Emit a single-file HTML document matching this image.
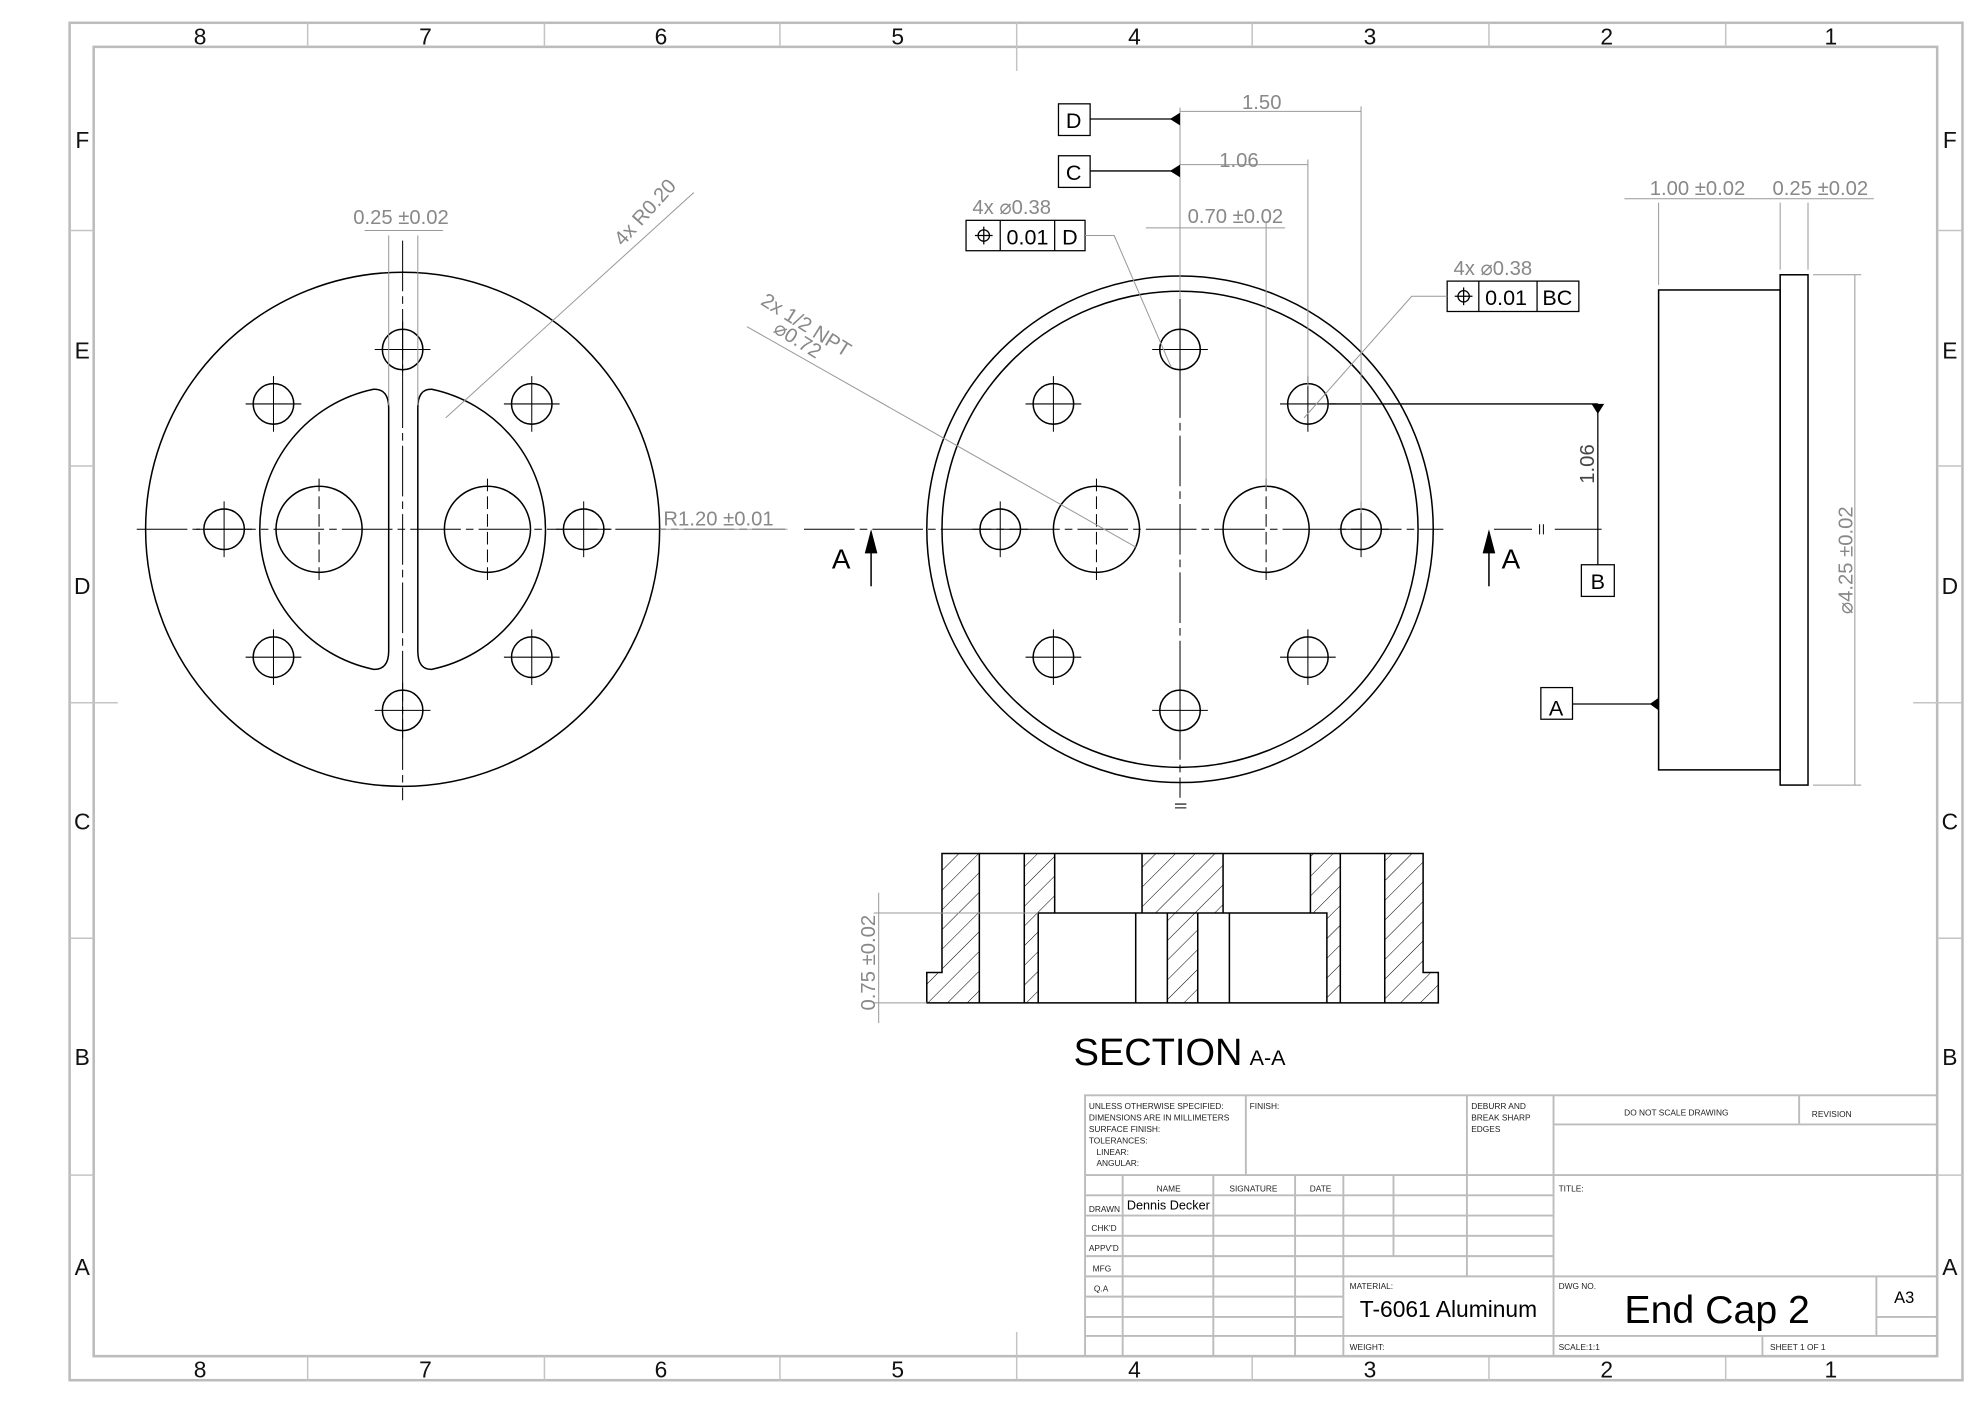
<!DOCTYPE html>
<html><head><meta charset="utf-8"><style>
html,body{margin:0;padding:0;background:#fff;}
svg{display:block;}
text{font-family:"Liberation Sans",sans-serif;}
</style></head><body>
<svg width="1984" height="1403" viewBox="0 0 1567 1108" preserveAspectRatio="none" xmlns="http://www.w3.org/2000/svg">
<defs>
<pattern id="h" patternUnits="userSpaceOnUse" width="11" height="11" patternTransform="rotate(45)">
<line x1="0" y1="0" x2="0" y2="11" stroke="#000" stroke-width="0.8"/>
</pattern>
</defs>
<rect width="1567" height="1108" fill="#fff"/>
<!-- border -->
<g fill="none" stroke="#bcbcbc" stroke-width="2">
<rect x="55" y="18" width="1495" height="1072"/>
<rect x="74" y="37" width="1456" height="1034"/>
</g>
<g stroke="#c4c4c4" stroke-width="1.2">
<line x1="243" y1="18" x2="243" y2="37"/><line x1="430" y1="18" x2="430" y2="37"/><line x1="616" y1="18" x2="616" y2="37"/><line x1="803" y1="18" x2="803" y2="56"/><line x1="989" y1="18" x2="989" y2="37"/><line x1="1176" y1="18" x2="1176" y2="37"/><line x1="1363" y1="18" x2="1363" y2="37"/>
<line x1="243" y1="1071" x2="243" y2="1090"/><line x1="430" y1="1071" x2="430" y2="1090"/><line x1="616" y1="1071" x2="616" y2="1090"/><line x1="803" y1="1052" x2="803" y2="1090"/><line x1="989" y1="1071" x2="989" y2="1090"/><line x1="1176" y1="1071" x2="1176" y2="1090"/><line x1="1363" y1="1071" x2="1363" y2="1090"/>
<line x1="55" y1="182" x2="74" y2="182"/><line x1="55" y1="368" x2="74" y2="368"/><line x1="55" y1="555" x2="93" y2="555"/><line x1="55" y1="741" x2="74" y2="741"/><line x1="55" y1="928" x2="74" y2="928"/>
<line x1="1530" y1="182" x2="1550" y2="182"/><line x1="1530" y1="368" x2="1550" y2="368"/><line x1="1511" y1="555" x2="1550" y2="555"/><line x1="1530" y1="741" x2="1550" y2="741"/><line x1="1530" y1="928" x2="1550" y2="928"/>
</g>
<g font-size="18" fill="#111" text-anchor="middle">
<text x="158" y="35">8</text><text x="336" y="35">7</text><text x="522" y="35">6</text><text x="709" y="35">5</text><text x="896" y="35">4</text><text x="1082" y="35">3</text><text x="1269" y="35">2</text><text x="1446" y="35">1</text>
<text x="158" y="1088">8</text><text x="336" y="1088">7</text><text x="522" y="1088">6</text><text x="709" y="1088">5</text><text x="896" y="1088">4</text><text x="1082" y="1088">3</text><text x="1269" y="1088">2</text><text x="1446" y="1088">1</text>
<text x="65" y="117">F</text><text x="65" y="283">E</text><text x="65" y="469">D</text><text x="65" y="655">C</text><text x="65" y="841">B</text><text x="65" y="1007">A</text>
<text x="1540" y="117">F</text><text x="1540" y="283">E</text><text x="1540" y="469">D</text><text x="1540" y="655">C</text><text x="1540" y="841">B</text><text x="1540" y="1007">A</text>
</g>

<!-- LEFT VIEW -->
<g fill="none" stroke="#000" stroke-width="1.2">
<circle cx="318" cy="418" r="203"/>
<path d="M307,322 Q307,307 295,307.4 A113,113 0 0 0 295,528.6 Q307,529 307,514 Z"/>
<path d="M330,322 Q330,307 341,307.4 A113,113 0 0 1 341,528.6 Q330,529 330,514 Z"/>
<circle cx="252" cy="418" r="34"/><circle cx="385" cy="418" r="34"/>
<circle cx="318" cy="276" r="16"/><circle cx="318" cy="561" r="16"/><circle cx="177" cy="418" r="16"/><circle cx="461" cy="418" r="16"/>
<circle cx="216" cy="319" r="16"/><circle cx="420" cy="319" r="16"/><circle cx="216" cy="519" r="16"/><circle cx="420" cy="519" r="16"/>
</g>
<g stroke="#000" stroke-width="0.8">
<line x1="108" y1="418" x2="620" y2="418" stroke-dasharray="40,4,6,4"/>
<line x1="318" y1="190" x2="318" y2="632" stroke-dasharray="40,4,6,4"/>
<line x1="252" y1="378" x2="252" y2="460" stroke-dasharray="10,4"/><line x1="385" y1="378" x2="385" y2="460" stroke-dasharray="10,4"/>
<path d="M296,276h44M318,254v44M296,561h44M318,539v44M155,418h44M177,396v44M439,418h44M461,396v44M194,319h44M216,297v44M398,319h44M420,297v44M194,519h44M216,497v44M398,519h44M420,497v44"/>
</g>
<g stroke="#999" stroke-width="0.8" fill="none">
<line x1="307" y1="186" x2="307" y2="320"/><line x1="330" y1="186" x2="330" y2="320"/>
<line x1="288" y1="182" x2="350" y2="182"/>
<line x1="548" y1="152" x2="352" y2="330"/>
<line x1="521" y1="418" x2="622" y2="418"/>
</g>
<g fill="#888" font-size="16">
<text x="279" y="177">0.25 ±0.02</text>
<text x="0" y="0" transform="translate(492,195) rotate(-48)">4x R0.20</text>
<text x="524" y="415">R1.20 ±0.01</text>
</g>

<!-- CENTER VIEW -->
<g fill="none" stroke="#000" stroke-width="1.2">
<circle cx="932" cy="418" r="200"/><circle cx="932" cy="418" r="188"/>
<circle cx="866" cy="418" r="34"/><circle cx="1000" cy="418" r="34"/>
<circle cx="932" cy="276" r="16"/><circle cx="932" cy="561" r="16"/><circle cx="790" cy="418" r="16"/><circle cx="1075" cy="418" r="16"/>
<circle cx="832" cy="319" r="16"/><circle cx="1033" cy="319" r="16"/><circle cx="832" cy="519" r="16"/><circle cx="1033" cy="519" r="16"/>
</g>
<g stroke="#000" stroke-width="0.8">
<line x1="635" y1="418" x2="1140" y2="418" stroke-dasharray="40,4,6,4"/>
<line x1="1180" y1="418" x2="1210" y2="418"/><line x1="1228" y1="418" x2="1265" y2="418"/>
<line x1="932" y1="236" x2="932" y2="630" stroke-dasharray="40,4,6,4"/>
<line x1="866" y1="378" x2="866" y2="460" stroke-dasharray="10,4"/><line x1="1000" y1="378" x2="1000" y2="460" stroke-dasharray="10,4"/>
<path d="M910,276h44M932,254v44M910,561h44M932,539v44M768,418h44M790,396v44M1053,418h44M1075,396v44M810,319h44M832,297v44M1011,319h44M1033,297v44M810,519h44M832,497v44M1011,519h44M1033,497v44"/>
<path d="M928,635h9M928,638h9M1216,414v8M1219,414v8"/>
</g>
<line x1="932" y1="85" x2="932" y2="236" stroke="#999" stroke-width="0.8"/>
<!-- datum D C -->
<g fill="none" stroke="#000" stroke-width="1">
<rect x="836" y="82" width="25" height="25"/><rect x="836" y="123" width="25" height="25"/>
<line x1="861" y1="94" x2="926" y2="94"/><line x1="861" y1="135" x2="926" y2="135"/>
<rect x="763" y="174" width="94" height="24"/><line x1="790" y1="174" x2="790" y2="198"/><line x1="833" y1="174" x2="833" y2="198"/>
<rect x="1143" y="222" width="104" height="24"/><line x1="1168" y1="222" x2="1168" y2="246"/><line x1="1214" y1="222" x2="1214" y2="246"/>
<line x1="1050" y1="319" x2="1262" y2="319"/>
<line x1="1262" y1="319" x2="1262" y2="446"/>
<rect x="1249" y="446" width="26" height="25"/>
<circle cx="777" cy="186" r="4.5"/><line x1="777" y1="179" x2="777" y2="193"/><line x1="770" y1="186" x2="784" y2="186"/>
<circle cx="1156" cy="234" r="4.5"/><line x1="1156" y1="227" x2="1156" y2="241"/><line x1="1149" y1="234" x2="1163" y2="234"/>
</g>
<path d="M932,89L924,94L932,99Z M932,130L924,135L932,140Z M1257,319L1267,319L1262,327Z M1303,556L1310,551L1310,561Z" fill="#000"/>
<g stroke="#999" stroke-width="0.8" fill="none">
<line x1="932" y1="88" x2="1075" y2="88"/><line x1="1075" y1="84" x2="1075" y2="405"/>
<line x1="932" y1="130" x2="1033" y2="130"/><line x1="1033" y1="126" x2="1033" y2="305"/>
<line x1="905" y1="180" x2="1015" y2="180"/><line x1="1000" y1="176" x2="1000" y2="385"/>
<polyline points="857,186 880,186 925,290"/>
<polyline points="1143,234 1115,234 1030,330"/>
<line x1="590" y1="258" x2="897" y2="432"/>
</g>
<g fill="#000" font-size="22"><text x="657" y="449">A</text><text x="1186" y="449">A</text></g>
<g stroke="#000" stroke-width="1.2"><line x1="688" y1="420" x2="688" y2="463"/><line x1="1176" y1="420" x2="1176" y2="463"/></g>
<path d="M683,437L688,418L693,437Z M1171,437L1176,418L1181,437Z" fill="#000"/>
<g font-size="17" fill="#000" text-anchor="middle">
<text x="848" y="101">D</text><text x="848" y="142">C</text>
<text x="845" y="193">D</text><text x="1230" y="241">BC</text>
<text x="1262" y="465">B</text><text x="1229" y="565">A</text>
</g>
<g font-size="17" fill="#000"><text x="795" y="193">0.01</text><text x="1173" y="241">0.01</text></g>
<g fill="#888" font-size="16">
<text x="981" y="86">1.50</text><text x="963" y="132">1.06</text>
<text x="938" y="176">0.70 ±0.02</text>
<text x="768" y="169">4x ⌀0.38</text><text x="1148" y="217">4x ⌀0.38</text>
<text x="0" y="0" transform="translate(600,240) rotate(32)">2x 1/2 NPT</text>
<text x="0" y="0" transform="translate(610,262) rotate(32)">⌀0.72</text>
</g>
<text x="0" y="0" transform="translate(1259,382) rotate(-90)" font-size="16" fill="#444">1.06</text>

<!-- RIGHT VIEW -->
<g fill="none" stroke="#000" stroke-width="1.2">
<rect x="1310" y="229" width="96" height="379"/>
<rect x="1406" y="217" width="22" height="403"/>
<rect x="1217" y="543" width="25" height="25" stroke-width="1"/>
<line x1="1242" y1="556" x2="1304" y2="556" stroke-width="1"/>
</g>
<g stroke="#999" stroke-width="0.8">
<line x1="1283" y1="157" x2="1480" y2="157"/>
<line x1="1310" y1="160" x2="1310" y2="225"/><line x1="1406" y1="160" x2="1406" y2="213"/><line x1="1428" y1="160" x2="1428" y2="213"/>
<line x1="1432" y1="217" x2="1470" y2="217"/><line x1="1432" y1="620" x2="1470" y2="620"/>
<line x1="1465" y1="217" x2="1465" y2="620"/>
</g>
<g fill="#888" font-size="16"><text x="1303" y="154">1.00 ±0.02</text><text x="1400" y="154">0.25 ±0.02</text>
<text x="0" y="0" transform="translate(1463,485) rotate(-90)">⌀4.25 ±0.02</text></g>

<!-- SECTION -->
<g fill="url(#h)" stroke="none">
<path d="M744,674H773.5V792H732V768H744Z"/>
<path d="M809,674H833V721H820V792H809Z"/>
<path d="M902,674H966V721H946V792H922V721H902Z"/>
<path d="M1035,674H1058.6V792H1048V721H1035Z"/>
<path d="M1093.7,674H1124V768H1136V792H1093.7Z"/>
</g>
<g fill="none" stroke="#000" stroke-width="1.2">
<path d="M744,674H1124V768H1136V792H732V768H744Z"/>
<path d="M773.5,674V792M809,674V792M1058.6,674V792M1093.7,674V792"/>
<path d="M833,674V721M902,674V721M966,674V721M1035,674V721"/>
<path d="M820,792V721H1048V792M897,721V792M922,721V792M946,721V792M971,721V792"/>
</g>
<g stroke="#999" stroke-width="0.8"><line x1="690" y1="721" x2="820" y2="721"/><line x1="690" y1="792" x2="732" y2="792"/><line x1="694" y1="705" x2="694" y2="808"/></g>
<text x="0" y="0" transform="translate(691,798) rotate(-90)" font-size="16" fill="#888">0.75 ±0.02</text>
<text x="848" y="841" font-size="30" fill="#000">SECTION</text><text x="987" y="841" font-size="17" fill="#000">A-A</text>

<!-- TITLE BLOCK -->
<g stroke="#bcbcbc" stroke-width="1.5" fill="none">
<rect x="857" y="865" width="673" height="206"/>
<line x1="857" y1="928" x2="1530" y2="928"/>
<line x1="1227" y1="888" x2="1530" y2="888"/>
<line x1="1421" y1="865" x2="1421" y2="888"/>
<line x1="984" y1="865" x2="984" y2="928"/>
<line x1="1158.6" y1="865" x2="1158.6" y2="1008"/>
<line x1="1227" y1="865" x2="1227" y2="1071"/>
<line x1="886.7" y1="928" x2="886.7" y2="1071"/>
<line x1="958.3" y1="928" x2="958.3" y2="1071"/>
<line x1="1022.9" y1="928" x2="1022.9" y2="1071"/>
<line x1="1061" y1="928" x2="1061" y2="1071"/>
<line x1="1100.6" y1="928" x2="1100.6" y2="992"/>
<line x1="857" y1="944" x2="1227" y2="944"/><line x1="857" y1="960" x2="1227" y2="960"/><line x1="857" y1="976" x2="1227" y2="976"/><line x1="857" y1="992" x2="1227" y2="992"/>
<line x1="857" y1="1008" x2="1530" y2="1008"/>
<line x1="857" y1="1024" x2="1061" y2="1024"/><line x1="857" y1="1040" x2="1061" y2="1040"/>
<line x1="1482" y1="1008" x2="1482" y2="1055"/><line x1="1482" y1="1040" x2="1530" y2="1040"/>
<line x1="857" y1="1055" x2="1530" y2="1055"/>
<line x1="1392" y1="1055" x2="1392" y2="1071"/>
</g>
<g font-size="6.6" fill="#222">
<text x="860" y="876">UNLESS OTHERWISE SPECIFIED:</text>
<text x="860" y="885">DIMENSIONS ARE IN MILLIMETERS</text>
<text x="860" y="894">SURFACE FINISH:</text>
<text x="860" y="903">TOLERANCES:</text>
<text x="866" y="912">LINEAR:</text>
<text x="866" y="921">ANGULAR:</text>
<text x="987" y="876">FINISH:</text>
<text x="1162" y="876">DEBURR AND</text><text x="1162" y="885">BREAK SHARP</text><text x="1162" y="894">EDGES</text>
<text x="1324" y="881" text-anchor="middle">DO NOT SCALE DRAWING</text>
<text x="1431" y="882">REVISION</text>
<text x="923" y="941" text-anchor="middle">NAME</text><text x="990" y="941" text-anchor="middle">SIGNATURE</text><text x="1043" y="941" text-anchor="middle">DATE</text>
<text x="860" y="957">DRAWN</text><text x="862" y="972">CHK'D</text><text x="860" y="988">APPV'D</text><text x="863" y="1004">MFG</text><text x="864" y="1020">Q.A</text>
<text x="1231" y="941">TITLE:</text>
<text x="1066" y="1018">MATERIAL:</text><text x="1231" y="1018">DWG NO.</text>
<text x="1066" y="1066">WEIGHT:</text><text x="1231" y="1066">SCALE:1:1</text><text x="1398" y="1066">SHEET 1 OF 1</text>
</g>
<text x="890" y="955" font-size="10" fill="#000">Dennis Decker</text>
<text x="1074" y="1040" font-size="18" fill="#000">T-6061 Aluminum</text>
<text x="1283" y="1045" font-size="31" fill="#000">End Cap 2</text>
<text x="1496" y="1029" font-size="13" fill="#000">A3</text>
</svg>
</body></html>
